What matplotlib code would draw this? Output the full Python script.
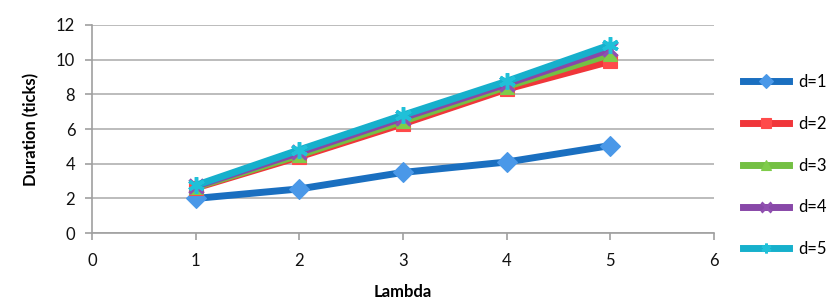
import matplotlib
matplotlib.use("Agg")
import matplotlib.pyplot as plt
from matplotlib.lines import Line2D

plt.rcParams['font.family'] = ['Lato', 'DejaVu Sans']

lam = [1, 2, 3, 4, 5]
d1 = [2.0, 2.55, 3.5, 4.1, 5.05]
d2 = [2.6, 4.4, 6.3, 8.3, 9.9]
d3 = [2.65, 4.5, 6.45, 8.45, 10.3]
d4 = [2.7, 4.65, 6.65, 8.6, 10.6]
d5 = [2.75, 4.8, 6.8, 8.75, 10.85]
labels = ["d=1", "d=2", "d=3", "d=4", "d=5"]
series = [d1, d2, d3, d4, d5]
colors = ["#1a6fc0", "#f0363a", "#74c043", "#8848a8", "#16b0cc"]
mcolors = ["#4a98e8", "#ff4a4a", "#7fcc4a", "#9050b0", "#20c0d8"]
markers = ["D", "s", "^", "x", (6, 2, 0)]
msizes = [10, 10, 10, 10, 12]

fig = plt.figure(figsize=(8.36, 3.08), dpi=100)
ax = fig.add_axes([0.110, 0.243, 0.744, 0.676])

for ys, c, mc, m, ms in zip(series, colors, mcolors, markers, msizes):
    star = not isinstance(m, str) or m == "x"
    ax.plot(lam, ys, color=c, lw=5, marker=m, markersize=ms,
            markerfacecolor=mc, markeredgecolor=mc, markeredgewidth=2.5 if star else 0.8,
            solid_capstyle="round", zorder=3)

ax.set_xlim(0, 6)
ax.set_ylim(0, 12)
ax.set_xticks(range(0, 7))
ax.set_yticks(range(0, 13, 2))
ax.yaxis.grid(True, color="#b0b0b0", lw=1.2)
ax.set_axisbelow(True)
for s in ["top", "right"]:
    ax.spines[s].set_visible(False)
for s in ["left", "bottom"]:
    ax.spines[s].set_color("#a0a0a0")
    ax.spines[s].set_linewidth(1.2)
ax.tick_params(axis="both", colors="#a0a0a0", labelcolor="#111111", labelsize=12, length=5, width=1.2)
ax.tick_params(axis="x", pad=9)
ax.tick_params(axis="y", pad=7)
ax.set_xlabel("Lambda", fontsize=12, fontweight="bold", labelpad=11)
ax.set_ylabel("Duration (ticks)", fontsize=12, fontweight="bold", labelpad=12)

handles = [Line2D([0], [0], color=c, lw=5, marker=m, markersize=7,
                  markerfacecolor=mc, markeredgecolor=mc,
                  markeredgewidth=2 if (not isinstance(m, str) or m == "x") else 0.8)
           for c, mc, m in zip(colors, mcolors, markers)]
fig.legend(handles, labels, loc="center left", bbox_to_anchor=(0.889, 0.4625),
           frameon=False, fontsize=12, handlelength=2.75, labelspacing=1.55,
           handletextpad=0.55, borderpad=0, borderaxespad=0)

fig.savefig("out.png", dpi=100)
